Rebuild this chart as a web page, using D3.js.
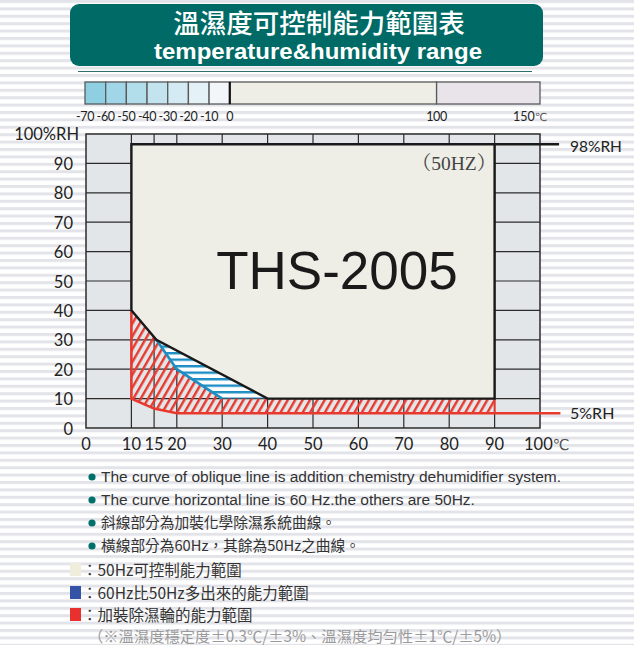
<!DOCTYPE html>
<html lang="zh-Hant">
<head>
<meta charset="UTF-8" />
<title>溫濕度可控制能力範圍表</title>
<style>
  body { margin: 0; background: #fff; }
  svg { display: block; }
</style>
</head>
<body>
<svg id="chart"></svg>
<script src="https://d3js.org/d3.v7.min.js"></script>
<script>
// ---- data ----
const titleZh = "溫濕度可控制能力範圍表";
const titleEn = "temperature&humidity range";

// top temperature bar (°C)
const tempCells = [-70, -60, -50, -40, -30, -20, -10, 0, 100, 150];
const tempCellColors = ["#8ecfe2", "#a0d6e7", "#b2ddeb", "#c3e4ef", "#d4ebf3", "#e4f1f6", "#f3f6f9", "#eeeee6", "#e8e4ea"];
const tempTickLabels = [-70, -60, -50, -40, -30, -20, -10, 0, 100];

// main grid
const xTicks = [0, 10, 15, 20, 30, 40, 50, 60, 70, 80, 90, 100];
const yTicks = [0, 10, 20, 30, 40, 50, 60, 70, 80, 90];
const xGrid = [10, 15, 20, 30, 40, 50, 60, 70, 80, 90];
const yGrid = [10, 20, 30, 40, 50, 60, 70, 80, 90];

// regions as [temp °C, %RH]
const range50Hz = [[10, 96.5], [90, 96.5], [90, 10], [40, 10], [15.5, 30], [10, 40]];
const extra60Hz = [[15.5, 30], [40, 10], [30, 10], [20, 20]];
const curve60Hz = [[15.5, 30], [20, 20], [30, 10]];
const dehumid = [[10, 40], [15.5, 30], [20, 20], [30, 10], [90, 10], [90, 5], [20, 5], [15, 6.6], [10, 10]];
const dehumidEdge = [[10, 40], [10, 10], [15, 6.6], [20, 5], [104.5, 5]];
const dehumidRight = [[90, 10], [90, 5]];
const topLine = [[90, 96.5], [104.2, 96.5]];

const notes = [
  "The curve of oblique line is addition chemistry dehumidifier system.",
  "The curve horizontal line is 60 Hz.the others are 50Hz.",
  "斜線部分為加裝化學除濕系統曲線。",
  "橫線部分為60Hz，其餘為50Hz之曲線。"
];
const legendLabels = ["：50Hz可控制能力範圍", "：60Hz比50Hz多出來的能力範圍", "：加裝除濕輪的能力範圍"];
const legendColors = ["#efeedd", "#3553a6", "#e8302f"];
const footnote = "（※溫濕度穩定度±0.3℃/±3%、溫濕度均勻性±1℃/±5%）";

// ---- setup ----
const width = 634, height = 645;
const svg = d3.select("#chart").attr("width", width).attr("height", height);
const defs = svg.append("defs");

const RED = "#e8392f";
const BLUE = "#1c8ec4";
const INK = "#222";
const labelFont = "Lato, 'DejaVu Sans', sans-serif";
const arial = "'Liberation Sans', Arial, sans-serif";
const cjk = "'Noto Sans CJK TC', sans-serif";

// striped page background
const bg = defs.append("pattern").attr("id", "bgStripes")
  .attr("patternUnits", "userSpaceOnUse").attr("width", 10).attr("height", 7.4);
bg.append("rect").attr("width", 10).attr("height", 7.4).attr("fill", "#fff");
bg.append("rect").attr("width", 10).attr("height", 3).attr("fill", "#e3e4e9");

// red diagonal hatch
const hatch = defs.append("pattern").attr("id", "redHatch")
  .attr("patternUnits", "userSpaceOnUse").attr("width", 6.4).attr("height", 10)
  .attr("patternTransform", "rotate(30)");
hatch.append("line").attr("x1", 1.2).attr("x2", 1.2).attr("y1", 0).attr("y2", 10)
  .attr("stroke", RED).attr("stroke-width", 2.4);

// blue horizontal stripes
const blueStripe = defs.append("pattern").attr("id", "blueStripes")
  .attr("patternUnits", "userSpaceOnUse").attr("width", 10).attr("height", 6.5)
  .attr("y", 1);
blueStripe.append("rect").attr("width", 10).attr("height", 6.5).attr("fill", "#fff");
blueStripe.append("rect").attr("width", 10).attr("height", 2.4).attr("fill", BLUE);

svg.append("rect").attr("width", width).attr("height", height).attr("fill", "url(#bgStripes)");

// ---- header ----
svg.append("rect").attr("x", 70).attr("y", 4).attr("width", 473).attr("height", 62)
  .attr("rx", 9).attr("fill", "#006b66");
svg.append("text").attr("x", 319).attr("y", 33).attr("text-anchor", "middle")
  .attr("fill", "#fff").attr("font-family", cjk)
  .attr("font-weight", 500).attr("font-size", 26.5).text(titleZh);
svg.append("text").attr("x", 154).attr("y", 59)
  .attr("fill", "#fff").attr("font-family", arial)
  .attr("font-weight", "bold").attr("font-size", 22.5)
  .attr("textLength", 328).attr("lengthAdjust", "spacingAndGlyphs").text(titleEn);
svg.append("line").attr("x1", 78).attr("x2", 532).attr("y1", 71.5).attr("y2", 71.5)
  .attr("stroke", "#2f6f6b").attr("stroke-width", 1);

// ---- temperature bar ----
const t = d3.scaleLinear().domain([-70, 150]).range([85, 540]);
const barTop = 82, barH = 22;
const bar = svg.append("g");
bar.selectAll("rect").data(d3.pairs(tempCells)).join("rect")
  .attr("x", d => t(d[0])).attr("y", barTop)
  .attr("width", d => t(d[1]) - t(d[0])).attr("height", barH)
  .attr("fill", (d, i) => tempCellColors[i])
  .attr("stroke", "#5a5a5a").attr("stroke-width", 1.3);
bar.append("line").attr("x1", t(0)).attr("x2", t(0)).attr("y1", barTop).attr("y2", barTop + barH)
  .attr("stroke", "#111").attr("stroke-width", 2.2);
bar.selectAll("text.tt").data(tempTickLabels).join("text").attr("class", "tt")
  .attr("x", d => t(d)).attr("y", 121).attr("text-anchor", "middle")
  .attr("font-family", labelFont).attr("font-size", 12.5).attr("letter-spacing", -0.3)
  .attr("fill", INK).text(d => d);
bar.append("text").attr("x", t(150) - 10).attr("y", 121).attr("text-anchor", "middle")
  .attr("font-family", labelFont).attr("font-size", 12.5).attr("fill", INK)
  .text("150").append("tspan").attr("font-size", 11).attr("fill", "#555").text("℃");

// ---- main chart ----
const x = d3.scaleLinear().domain([0, 100]).range([86, 540]);
const y = d3.scaleLinear().domain([0, 100]).range([428, 134]);
const line = d3.line().x(d => x(d[0])).y(d => y(d[1]));

const plot = svg.append("g");
plot.append("rect").attr("x", x(0)).attr("y", y(100))
  .attr("width", x(100) - x(0)).attr("height", y(0) - y(100))
  .attr("fill", "#e3e6e9");
plot.selectAll("line.gx").data(xGrid).join("line").attr("class", "gx")
  .attr("x1", d => x(d)).attr("x2", d => x(d)).attr("y1", y(0)).attr("y2", y(100))
  .attr("stroke", "#2b2b2b").attr("stroke-width", 1.2);
plot.selectAll("line.gy").data(yGrid).join("line").attr("class", "gy")
  .attr("x1", x(0)).attr("x2", x(100)).attr("y1", d => y(d)).attr("y2", d => y(d))
  .attr("stroke", "#2b2b2b").attr("stroke-width", 1.2);
plot.append("rect").attr("x", x(0)).attr("y", y(100))
  .attr("width", x(100) - x(0)).attr("height", y(0) - y(100))
  .attr("fill", "none").attr("stroke", "#2b2b2b").attr("stroke-width", 1.5);

// 50Hz range
plot.append("path").attr("d", line(range50Hz) + "Z").attr("fill", "#eeeee6");
// 60Hz extra range
plot.append("path").attr("d", line(extra60Hz) + "Z").attr("fill", "url(#blueStripes)");
// dehumidifier range
plot.append("path").attr("d", line(dehumid) + "Z").attr("fill", "url(#redHatch)");
plot.append("path").attr("d", line(dehumidEdge)).attr("fill", "none")
  .attr("stroke", RED).attr("stroke-width", 2.6);
plot.append("path").attr("d", line(dehumidRight)).attr("fill", "none")
  .attr("stroke", RED).attr("stroke-width", 2);
plot.append("path").attr("d", line(curve60Hz)).attr("fill", "none")
  .attr("stroke", BLUE).attr("stroke-width", 2.6);
// 50Hz border and 98% line
plot.append("path").attr("d", line(range50Hz) + "Z").attr("fill", "none")
  .attr("stroke", "#1a1a1a").attr("stroke-width", 2.4).attr("stroke-linejoin", "miter");
plot.append("path").attr("d", line(topLine)).attr("stroke", "#1a1a1a").attr("stroke-width", 2.4);

// axis labels
plot.selectAll("text.yl").data(yTicks).join("text").attr("class", "yl")
  .attr("x", 73).attr("y", d => y(d) + 6.5).attr("text-anchor", "end")
  .attr("font-family", labelFont).attr("font-size", 16.5).attr("fill", INK)
  .text(d => d);
plot.append("text").attr("x", 79).attr("y", y(100) + 6).attr("text-anchor", "end")
  .attr("font-family", labelFont).attr("font-size", 16.5).attr("fill", INK).text("100%RH");
plot.selectAll("text.xl").data(xTicks).join("text").attr("class", "xl")
  .attr("x", d => x(d)).attr("y", 450).attr("text-anchor", "middle")
  .attr("font-family", labelFont).attr("font-size", 16.5).attr("fill", INK)
  .text(d => d === 100 ? "" : d);
plot.append("text").attr("x", x(100) - 16).attr("y", 450)
  .attr("font-family", labelFont).attr("font-size", 16.5).attr("fill", INK)
  .text("100").append("tspan").attr("font-size", 15).attr("fill", "#555").text("℃");
plot.append("text").attr("x", 570).attr("y", 152)
  .attr("font-family", labelFont).attr("font-size", 15.5).attr("fill", INK).text("98%RH");
plot.append("text").attr("x", 570).attr("y", 419)
  .attr("font-family", labelFont).attr("font-size", 16).attr("fill", INK).text("5%RH");
plot.append("text").attr("x", 454).attr("y", 170).attr("text-anchor", "middle")
  .attr("font-family", "'Liberation Serif', 'Noto Serif CJK TC', serif")
  .attr("font-size", 19.5).attr("fill", "#444").text("（50HZ）");
plot.append("text").attr("x", 337).attr("y", 289).attr("text-anchor", "middle")
  .attr("font-family", arial)
  .attr("font-size", 53).attr("fill", "#1a1a1a").text("THS-2005");

// ---- notes ----
const noteY = [482, 505, 528, 551];
const notesG = svg.append("g");
notes.forEach((s, i) => {
  notesG.append("circle").attr("cx", 92).attr("cy", noteY[i] - 5).attr("r", 3.6).attr("fill", "#00706b");
  notesG.append("text").attr("x", 101).attr("y", noteY[i])
    .attr("font-family", i < 2 ? arial : cjk)
    .attr("font-size", i < 2 ? 15.5 : 14.7).attr("fill", "#333").text(s);
});

// ---- legend ----
const legY = [570, 593, 615];
legendLabels.forEach((s, i) => {
  svg.append("rect").attr("x", 70).attr("y", legY[i] - 7).attr("width", 11).attr("height", 13)
    .attr("fill", legendColors[i]);
  svg.append("text").attr("x", 82).attr("y", legY[i] + 5.5)
    .attr("font-family", cjk).attr("font-size", 15.5)
    .attr("fill", "#333").text(s);
});
svg.append("text").attr("x", 88).attr("y", 642)
  .attr("font-family", cjk).attr("font-size", 15.3)
  .attr("fill", "#9a9a9a").text(footnote);
</script>
</body>
</html>
